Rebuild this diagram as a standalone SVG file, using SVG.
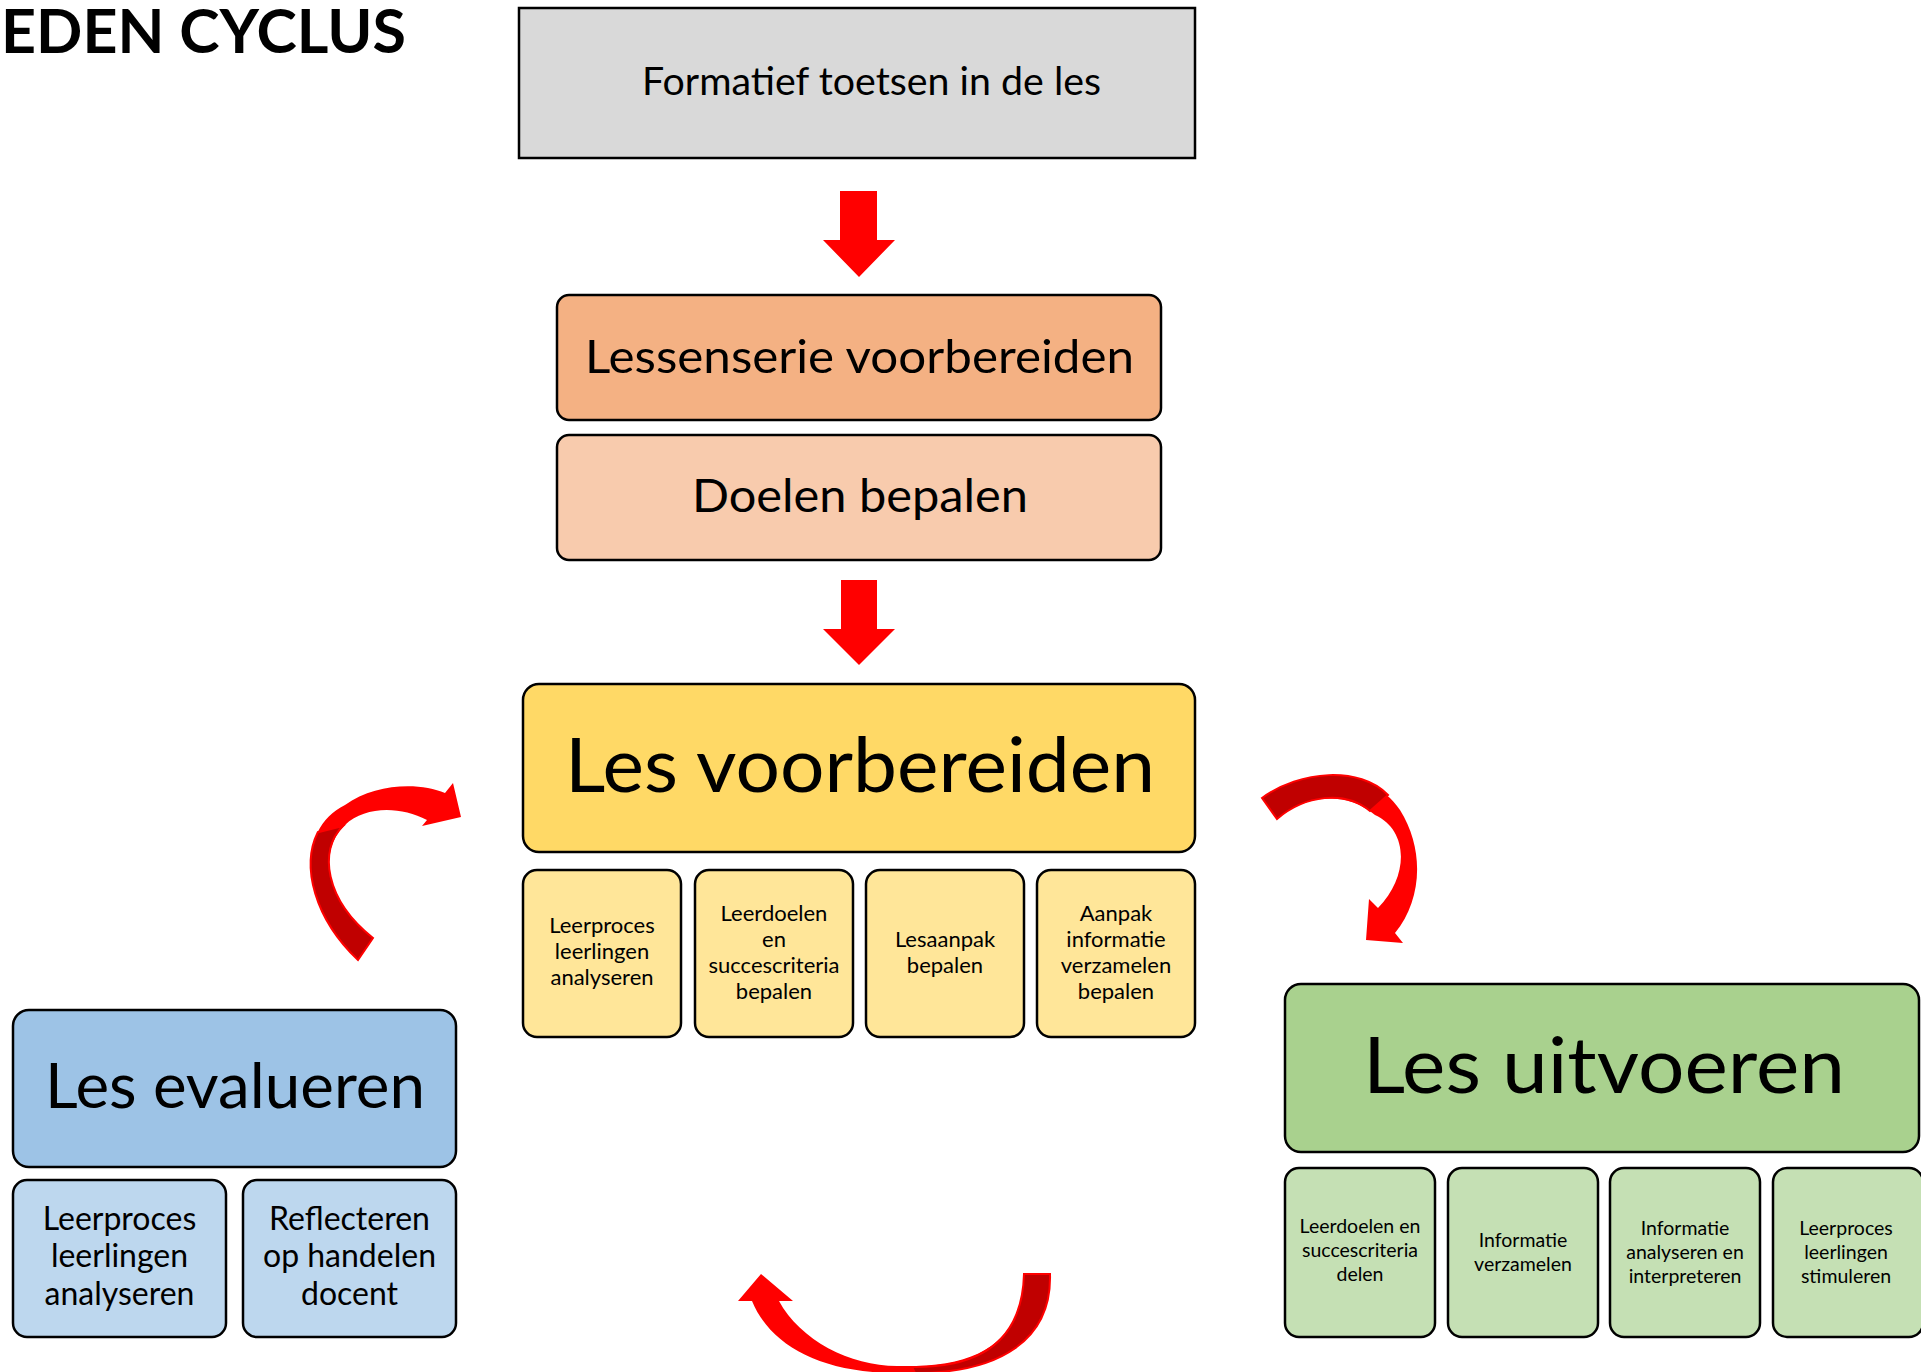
<svg xmlns="http://www.w3.org/2000/svg" width="1921" height="1372" viewBox="0 0 1921 1372">
<style>
text{font-family:Lato,"Open Sans","Liberation Sans",sans-serif;fill:#000;text-anchor:middle}
.box{stroke:#000;stroke-width:2.5}
.big{font-size:75px}
.s1{font-size:22px}
.s2{font-size:32px}
.s3{font-size:19.5px}
.red{fill:#ff0000}
.dark{fill:#c00000;stroke:#ff0000;stroke-width:2}
</style>
<rect width="1921" height="1372" fill="#fff"/>
<text x="1" y="53" style="text-anchor:start;font-weight:bold;font-size:61px" textLength="405" lengthAdjust="spacingAndGlyphs">EDEN CYCLUS</text>

<g id="formatief">
<rect class="box" x="519" y="8" width="676" height="150" fill="#d9d9d9" stroke-width="3"/>
<text x="642" y="95" style="text-anchor:start;font-size:38px" textLength="459" lengthAdjust="spacingAndGlyphs">Formatief toetsen in de les</text>
</g>

<g id="lessenserie">
<rect class="box" x="557" y="295" width="604" height="125" rx="12" fill="#f4b183"/>
<text x="859.5" y="373" style="font-size:47px" textLength="549" lengthAdjust="spacingAndGlyphs">Lessenserie voorbereiden</text>
</g>

<g id="doelen">
<rect class="box" x="557" y="435" width="604" height="125" rx="12" fill="#f8cbad"/>
<text x="860" y="512" style="font-size:47px" textLength="336" lengthAdjust="spacingAndGlyphs">Doelen bepalen</text>
</g>

<g id="les-voorbereiden">
<rect class="box" x="523" y="684" width="672" height="168" rx="16" fill="#ffd966"/>
<text class="big" x="860" y="792" textLength="590" lengthAdjust="spacingAndGlyphs">Les voorbereiden</text>
</g>
<g id="vb1">
<rect class="box" x="523" y="870" width="158" height="167" rx="14" fill="#ffe699"/>
<text class="s1" x="602" y="933">Leerproces</text>
<text class="s1" x="602" y="959">leerlingen</text>
<text class="s1" x="602" y="985">analyseren</text>
</g>
<g id="vb2">
<rect class="box" x="695" y="870" width="158" height="167" rx="14" fill="#ffe699"/>
<text class="s1" x="774" y="921">Leerdoelen</text>
<text class="s1" x="774" y="947">en</text>
<text class="s1" x="774" y="973">succescriteria</text>
<text class="s1" x="774" y="999">bepalen</text>
</g>
<g id="vb3">
<rect class="box" x="866" y="870" width="158" height="167" rx="14" fill="#ffe699"/>
<text class="s1" x="945" y="947">Lesaanpak</text>
<text class="s1" x="945" y="973">bepalen</text>
</g>
<g id="vb4">
<rect class="box" x="1037" y="870" width="158" height="167" rx="14" fill="#ffe699"/>
<text class="s1" x="1116" y="921">Aanpak</text>
<text class="s1" x="1116" y="947">informatie</text>
<text class="s1" x="1116" y="973">verzamelen</text>
<text class="s1" x="1116" y="999">bepalen</text>
</g>

<g id="les-evalueren">
<rect class="box" x="13" y="1010" width="443" height="157" rx="16" fill="#9dc3e6"/>
<text x="235" y="1108" style="font-size:62px" textLength="380" lengthAdjust="spacingAndGlyphs">Les evalueren</text>
</g>
<g id="ev1">
<rect class="box" x="13" y="1180" width="213" height="157" rx="14" fill="#bdd7ee"/>
<text class="s2" x="119.5" y="1230">Leerproces</text>
<text class="s2" x="119.5" y="1267">leerlingen</text>
<text class="s2" x="119.5" y="1305">analyseren</text>
</g>
<g id="ev2">
<rect class="box" x="243" y="1180" width="213" height="157" rx="14" fill="#bdd7ee"/>
<text class="s2" x="349.5" y="1230">Reflecteren</text>
<text class="s2" x="349.5" y="1267">op handelen</text>
<text class="s2" x="349.5" y="1305">docent</text>
</g>

<g id="les-uitvoeren">
<rect class="box" x="1285" y="984" width="634" height="168" rx="16" fill="#a9d18e"/>
<text x="1604" y="1093" style="font-size:77px" textLength="482" lengthAdjust="spacingAndGlyphs">Les uitvoeren</text>
</g>
<g id="ui1">
<rect class="box" x="1285" y="1168" width="150" height="169" rx="14" fill="#c5e0b4"/>
<text class="s3" x="1360" y="1233">Leerdoelen en</text>
<text class="s3" x="1360" y="1257">succescriteria</text>
<text class="s3" x="1360" y="1281">delen</text>
</g>
<g id="ui2">
<rect class="box" x="1448" y="1168" width="150" height="169" rx="14" fill="#c5e0b4"/>
<text class="s3" x="1523" y="1247">Informatie</text>
<text class="s3" x="1523" y="1271">verzamelen</text>
</g>
<g id="ui3">
<rect class="box" x="1610" y="1168" width="150" height="169" rx="14" fill="#c5e0b4"/>
<text class="s3" x="1685" y="1235">Informatie</text>
<text class="s3" x="1685" y="1259">analyseren en</text>
<text class="s3" x="1685" y="1283">interpreteren</text>
</g>
<g id="ui4">
<rect class="box" x="1773" y="1168" width="150" height="169" rx="14" fill="#c5e0b4"/>
<text class="s3" x="1846" y="1235">Leerproces</text>
<text class="s3" x="1846" y="1259">leerlingen</text>
<text class="s3" x="1846" y="1283">stimuleren</text>
</g>

<g id="connectors">
<polygon class="red" points="840,191 877,191 877,240 895,240 859,277 823,240 840,240"/>
<polygon class="red" points="841,580 877,580 877,629 895,629 859,665 823,629 841,629"/>
<path class="red" d="M358,960 C300,905 295,830 345,805 C375,783 420,782 445,793 L453,783 L461,817 L422,826 L427,820 C400,806 365,806 345,825 C318,850 325,900 373,938 Z"/>
<path class="dark" d="M358,960 C314.5,918.75 300.8,866.25 317.8,832.2 L343,826 C318,850 325,900 373,938 Z"/>
<path class="red" d="M1262,798 C1300,770 1370,765 1400,810 C1425,850 1422,900 1395,933 L1403,943 L1366,940 L1369,899 L1378,908 C1410,875 1408,830 1375,815 C1345,790 1305,795 1277,819 Z"/>
<path class="dark" d="M1262,798 C1300,770 1360,766 1388,795 L1370,811 C1345,790 1305,795 1277,819 Z"/>
<path class="red" d="M1050,1274 C1052,1340 1000,1373 897,1373 C820,1373 770,1345 752,1301 L738,1301 L761,1274 L793,1301 L779,1301 C800,1340 850,1366 897,1366 C975,1368 1022,1345 1024,1274 Z"/>
<path class="dark" d="M1050,1274 C1052,1340 1000,1373 915,1373 L912,1367 C975,1368 1022,1345 1024,1274 Z"/>
</g>
</svg>
